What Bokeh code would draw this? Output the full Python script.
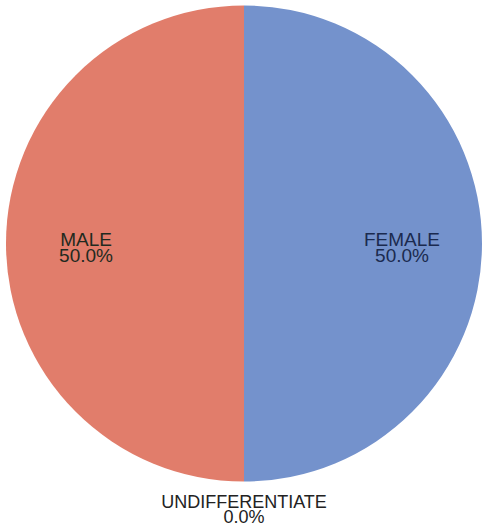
import math
from bokeh.plotting import figure
from bokeh.models import Range1d, ColumnDataSource
from bokeh.core.properties import value
from bokeh.embed import file_html
from bokeh.resources import INLINE

categories = ["FEMALE", "UNDIFFERENTIATE", "MALE"]
values = [50.0, 0.0, 50.0]
colors = ["#7492CC", "#9A9A9A", "#E17D6B"]
text_colors = ["#1B2A4F", "#222222", "#1F2A1F"]

W, H = 484, 527
cx, cy = 243.5, 527 - 243
R = 238

total = sum(values)
starts, ends, mids = [], [], []
acc = 0.0
for v in values:
    a0 = math.pi / 2 - acc / total * 2 * math.pi
    acc += v
    a1 = math.pi / 2 - acc / total * 2 * math.pi
    starts.append(a0)
    ends.append(a1)
    mids.append((a0 + a1) / 2)

keep = [i for i, v in enumerate(values) if v > 0]
src = ColumnDataSource(dict(start=[starts[i] for i in keep],
                            end=[ends[i] for i in keep],
                            color=[colors[i] for i in keep]))

p = figure(width=W, height=H, output_backend="svg", toolbar_location=None,
           x_range=Range1d(0, W), y_range=Range1d(0, H), min_border=0)
p.axis.visible = False
p.grid.visible = False
p.outline_line_color = None
p.background_fill_color = "white"
p.border_fill_color = "white"

p.wedge(x=cx, y=cy, radius=R, start_angle="start", end_angle="end",
        direction="clock", fill_color="color", line_color=None, source=src)

l1x, l1y, l1t, l2y, l2t, tc, fs = [], [], [], [], [], [], []
for cat, v, m, c in zip(categories, values, mids, text_colors):
    if v > 0:
        rl = 158
        x = cx + rl * math.cos(m)
        y1 = cy + rl * math.sin(m) + 4
        size = "19px"
        gap = 16
    else:
        rl = R + 20
        x = cx + rl * math.cos(m)
        y1 = cy + rl * math.sin(m)
        size = "18px"
        gap = 15
    l1x.append(x); l1y.append(y1); l1t.append(cat)
    l2y.append(y1 - gap); l2t.append(f"{v:.1f}%")
    tc.append(c); fs.append(size)

lab = ColumnDataSource(dict(x=l1x, y1=l1y, t1=l1t, y2=l2y, t2=l2t, c=tc, fs=fs))
p.text(x="x", y="y1", text="t1", source=lab, text_align="center",
       text_baseline="alphabetic", text_font=value("Liberation Sans"),
       text_font_size="fs", text_color="c")
p.text(x="x", y="y2", text="t2", source=lab, text_align="center",
       text_baseline="alphabetic", text_font=value("Liberation Sans"),
       text_font_size="fs", text_color="c")

open("out.html", "w").write(file_html(p, INLINE))
